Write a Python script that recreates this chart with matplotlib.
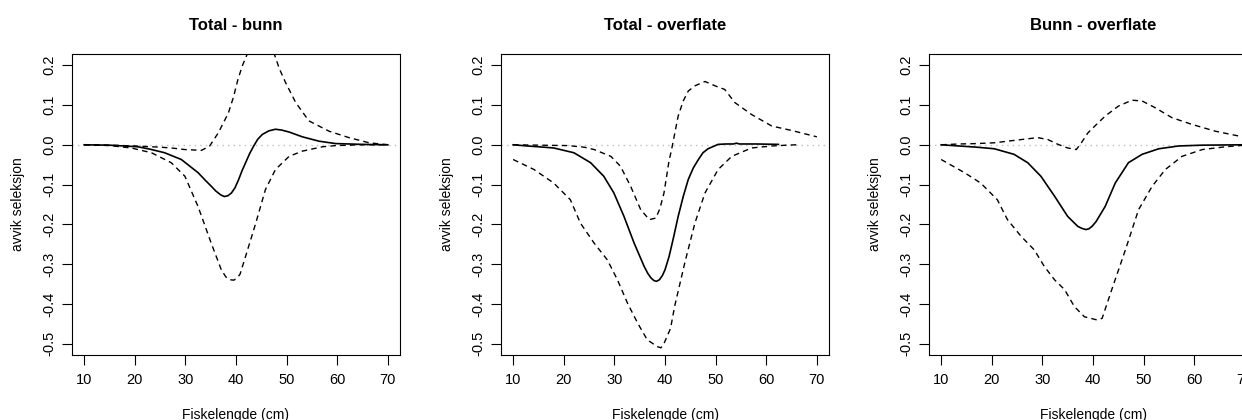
import matplotlib
import matplotlib.pyplot as plt

matplotlib.use("Agg")

plt.rcParams["font.family"] = ["Liberation Sans", "DejaVu Sans"]

# ---------------------------------------------------------------------------
# Data (Fiskelengde in cm, avvik seleksjon)
# ---------------------------------------------------------------------------

TITLES = ["Total - bunn", "Total - overflate", "Bunn - overflate"]
X_TICKS = [10, 20, 30, 40, 50, 60, 70]
Y_TICKS = [-0.5, -0.4, -0.3, -0.2, -0.1, 0.0, 0.1, 0.2]

# Total - bunn
TB_EST_X = [10, 15, 20.6, 23, 25.9, 29.2, 32.5, 34, 35.1, 36, 37, 37.7, 38.4,
            39.1, 39.8, 40.5, 41.2, 41.9, 42.7, 43.5, 44.3, 45.2, 46.5, 47.8,
            49, 50.5, 53.1, 56.4, 59.7, 65, 70]
TB_EST_Y = [0, -0.001, -0.005, -0.011, -0.02, -0.037, -0.07, -0.09, -0.104,
            -0.116, -0.126, -0.13, -0.128, -0.121, -0.108, -0.088, -0.065,
            -0.045, -0.022, -0.003, 0.014, 0.026, 0.035, 0.039, 0.037, 0.032,
            0.02, 0.009, 0.003, 0.001, 0]
TB_LO_X = [10, 15, 19.3, 23.3, 27.2, 29.9, 32.5, 35.1, 37.1, 38, 38.8, 39.6,
           40.3, 40.8, 41.9, 43.9, 45.8, 47.8, 50.5, 53.1, 57.1, 59.7, 65, 70]
TB_LO_Y = [0, -0.002, -0.008, -0.02, -0.045, -0.079, -0.155, -0.247, -0.314,
           -0.332, -0.339, -0.34, -0.333, -0.325, -0.28, -0.197, -0.113,
           -0.062, -0.029, -0.016, -0.005, -0.002, 0, 0]
TB_HI_X = [10, 15, 20, 25, 27.2, 29.9, 33.2, 34.8, 36.5, 38.5, 39.5, 40.4,
           41.3, 42.3, 43.5, 45, 46.5, 47.5, 48.6, 49.8, 51.8, 54.4, 58.4,
           62.3, 66.3, 70]
TB_HI_Y = [0, -0.001, -0.003, -0.006, -0.008, -0.012, -0.014, -0.003, 0.03,
           0.08, 0.12, 0.165, 0.2, 0.23, 0.26, 0.275, 0.26, 0.23, 0.19, 0.156,
           0.106, 0.06, 0.034, 0.018, 0.005, 0]

# Total - overflate
TO_EST_X = [10, 12.8, 16, 18, 22, 25.3, 27.9, 29.9, 31.9, 33.9, 35.9, 36.6,
            37.2, 37.8, 38.3, 38.9, 39.5, 40, 40.8, 41.7, 42.6, 43.6, 44.6,
            45.6, 46.6, 47.5, 48.5, 50.5, 52, 53.5, 54.1, 54.7, 58, 62.4]
TO_EST_Y = [0, -0.003, -0.006, -0.008, -0.02, -0.045, -0.079, -0.121, -0.18,
            -0.247, -0.306, -0.323, -0.334, -0.341, -0.343, -0.339, -0.328,
            -0.314, -0.281, -0.232, -0.18, -0.13, -0.087, -0.058, -0.037,
            -0.02, -0.01, 0.001, 0.002, 0.002, 0.004, 0.002, 0.002, 0.001]
TO_LO_X = [10, 14.1, 18, 21.3, 23.3, 26, 28.6, 30.6, 32.6, 34.6, 36.5, 38.5,
           39.2, 39.8, 41.1, 41.9, 43.9, 45.9, 47.9, 50.5, 53.2, 57.1, 61.1,
           64, 66]
TO_LO_Y = [-0.037, -0.062, -0.096, -0.138, -0.197, -0.247, -0.289, -0.339,
           -0.398, -0.448, -0.49, -0.507, -0.51, -0.499, -0.461, -0.406,
           -0.297, -0.197, -0.121, -0.062, -0.029, -0.008, -0.003, -0.001, 0]
TO_HI_X = [10, 15, 20.7, 24, 26, 29.3, 31.2, 33.2, 35.2, 36.9, 38.2, 39,
           39.8, 40.8, 41.3, 42.6, 43.6, 44.6, 45.9, 47.9, 49.9, 51.8, 53.8,
           57.1, 61.1, 65, 70]
TO_HI_Y = [0, -0.001, -0.002, -0.006, -0.012, -0.029, -0.054, -0.104, -0.163,
           -0.188, -0.184, -0.16, -0.121, -0.04, -0.012, 0.072, 0.11, 0.135,
           0.148, 0.159, 0.148, 0.139, 0.106, 0.076, 0.047, 0.036, 0.02]

# Bunn - overflate
BO_EST_X = [10, 13.5, 17, 20.5, 24.4, 27.1, 29.7, 32.4, 35, 37, 37.8, 38.6,
            39.2, 39.8, 40.6, 42.4, 44.4, 47, 49.7, 53, 56.9, 61.5, 70]
BO_EST_Y = [0, -0.003, -0.006, -0.01, -0.024, -0.045, -0.079, -0.129, -0.18,
            -0.205, -0.21, -0.213, -0.211, -0.205, -0.193, -0.155, -0.096,
            -0.045, -0.024, -0.01, -0.003, -0.001, 0]
BO_LO_X = [10, 14.6, 17.8, 21.1, 23.1, 25.8, 28.4, 30.4, 32.4, 34.4, 36.3,
           38.3, 39.6, 40.8, 41.8, 43.7, 46.4, 49, 51.7, 54.3, 57.6, 61.6,
           66.2, 70]
BO_LO_Y = [-0.037, -0.07, -0.096, -0.138, -0.188, -0.23, -0.264, -0.306,
           -0.339, -0.364, -0.406, -0.432, -0.436, -0.44, -0.436, -0.364,
           -0.264, -0.163, -0.104, -0.062, -0.029, -0.012, -0.005, -0.001]
BO_HI_X = [10, 13.5, 17, 20.5, 25.1, 29.1, 31.1, 33.1, 35, 36.7, 37.7, 39,
           40.6, 42.4, 45, 47.7, 49.7, 52.3, 55.6, 59.6, 64.2, 68.8, 70]
BO_HI_Y = [0, 0.002, 0.003, 0.005, 0.012, 0.018, 0.013, 0.001, -0.008,
           -0.012, 0.005, 0.03, 0.05, 0.072, 0.097, 0.112, 0.11, 0.093,
           0.068, 0.051, 0.034, 0.022, 0.02]

PANELS = [
    (TB_EST_X, TB_EST_Y, TB_LO_X, TB_LO_Y, TB_HI_X, TB_HI_Y),
    (TO_EST_X, TO_EST_Y, TO_LO_X, TO_LO_Y, TO_HI_X, TO_HI_Y),
    (BO_EST_X, BO_EST_Y, BO_LO_X, BO_LO_Y, BO_HI_X, BO_HI_Y),
]

# ---------------------------------------------------------------------------
# Layout (R base graphics look)
# ---------------------------------------------------------------------------

W, H = 1242, 420
fig = plt.figure(figsize=(W / 100, H / 100), dpi=100)
lefts = [72, 501, 929]
DASH = (0, (4, 3))

for left, title, (ex, ey, lx, ly, hx, hy) in zip(lefts, TITLES, PANELS):
    ax = fig.add_axes([left / W, 1 - 355 / H, 328 / W, 301 / H])
    ax.axhline(0, color="#bebebe", lw=1.0, ls=(0, (1, 3)))
    ax.plot(ex, ey, color="black", lw=1.2)
    ax.plot(lx, ly, color="black", lw=1.0, ls=DASH)
    ax.plot(hx, hy, color="black", lw=1.0, ls=DASH)

    ax.set_xlim(7.6, 72.4)
    ax.set_ylim(-0.528, 0.228)
    ax.set_xticks(X_TICKS)
    ax.set_yticks(Y_TICKS)
    ax.set_yticklabels([f"{v:.1f}" for v in Y_TICKS], rotation=90, va="center")
    ax.tick_params(direction="out", length=7, width=0.8, labelsize=10.5)
    ax.tick_params(axis="x", pad=6)
    ax.tick_params(axis="y", pad=4)
    for sp in ax.spines.values():
        sp.set_linewidth(0.8)

    ax.set_title(title, fontsize=12, fontweight="bold", pad=17)
    ax.set_xlabel("Fiskelengde (cm)", fontsize=10)
    ax.set_ylabel("avvik seleksjon", fontsize=10)
    ax.xaxis.set_label_coords(0.5, -0.177)
    ax.yaxis.set_label_coords(-0.142, 0.5)

fig.savefig("out.png", dpi=100)
plt.close(fig)
